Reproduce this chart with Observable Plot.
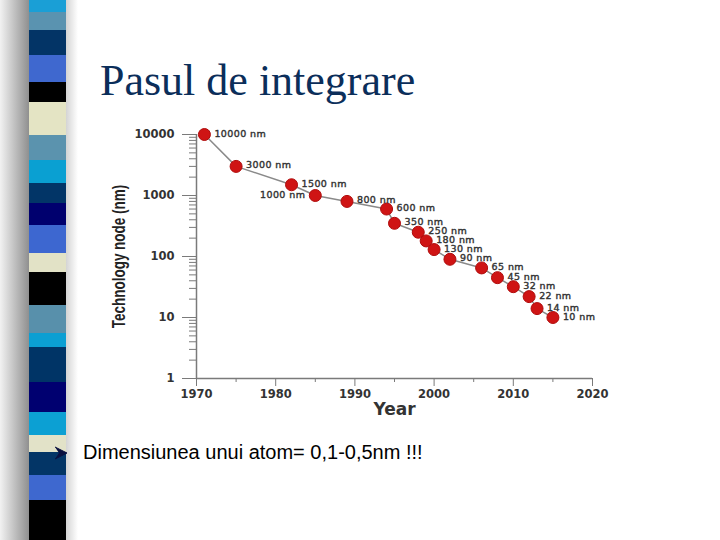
<!DOCTYPE html>
<html>
<head>
<meta charset="utf-8">
<script src="https://cdn.jsdelivr.net/npm/d3@7"></script>
<script src="https://cdn.jsdelivr.net/npm/@observablehq/plot@0.6"></script>
<style>
  html, body { margin: 0; padding: 0; background: #fff; }
  #slide { position: relative; width: 720px; height: 540px; overflow: hidden; background: #fff; }
  #shadow { position: absolute; left: 0; top: 0; width: 30px; height: 540px;
            background: linear-gradient(to right, #f2f2f2, #8c8c8c); }
  #shadow2 { position: absolute; left: 66px; top: 0; width: 12px; height: 540px;
            background: linear-gradient(to right, #d4d4d4, #ffffff); }
  #stripe { position: absolute; left: 29px; top: 0; width: 37px; height: 540px; }
  #stripe div { position: absolute; left: 0; width: 100%; }
  #title { position: absolute; left: 100px; top: 55px; font-family: "Liberation Serif", "Times New Roman", serif;
           font-size: 44px; color: #0b2e5a; white-space: nowrap; }
  #chart { position: absolute; left: 100px; top: 115px; }
  #bullet { position: absolute; left: 54px; top: 446px; }
  #bt { position: absolute; left: 83px; top: 441px; font-family: "Liberation Sans", Arial, sans-serif; font-size: 20px; color: #000; white-space: nowrap; }
</style>
</head>
<body>
<div id="slide">
  <div id="shadow"></div>
  <div id="stripe"></div>
  <div id="shadow2"></div>
  <div id="title">Pasul de integrare</div>
  <div id="chart"></div>
  <div id="bullet"><svg width="14" height="14" viewBox="0 0 14 14"><polygon points="1,1 13,7 1,13 5,7" fill="#0a1040"/><polyline points="1,1 13,7 1,13" fill="none" stroke="#0a1040" stroke-width="1"/></svg></div>
  <div id="bt">Dimensiunea unui atom= 0,1-0,5nm !!!</div>
</div>
<script>
// Data
const years = [1971, 1975, 1982, 1985, 1989, 1994, 1995, 1998, 1999, 2000, 2002, 2006, 2008, 2010, 2012, 2013, 2015];
const nodes = [10000, 3000, 1500, 1000, 800, 600, 350, 250, 180, 130, 90, 65, 45, 32, 22, 14, 10];
const xTicks = [1970, 1980, 1990, 2000, 2010, 2020];
const xMinorTicks = [1975, 1985, 1995, 2005, 2015];
const yTicks = [1, 10, 100, 1000, 10000];

// Decorative slide stripe (colours and band edges)
const stripeColors = ["#1a9fd6","#5a93b0","#033466","#3f68cf","#000000","#e4e4c4","#5b93ae","#0aa0d2","#023567","#00006e","#3d67d0","#e2e2c6","#000000","#5890ab","#0b9fd3","#003466","#000070","#0ca0d3","#e2e2c8","#033566","#3e68cf","#000000"];
const stripeEdges = [0,12,30,55,82,102,135,160,183,203,225,253,272,305,333,347,382,412,435,452,475,500,540];

const stripe = document.getElementById("stripe");
stripeColors.forEach((c, i) => {
  const d = document.createElement("div");
  d.style.top = stripeEdges[i] + "px";
  d.style.height = (stripeEdges[i + 1] - stripeEdges[i]) + "px";
  d.style.background = c;
  stripe.appendChild(d);
});

const data = years.map((y, i) => ({year: y, node: nodes[i]}));
const yMinor = [];
for (let e = 0; e < 4; e++) for (let k = 2; k <= 9; k++) yMinor.push(k * Math.pow(10, e));

const axisColor = "#7a7a7a";
const labelStyle = {fontSize: 9.5, fontWeight: "normal", fill: "#333", stroke: "#333", strokeWidth: 0.4};
const chart = Plot.plot({
  width: 520,
  height: 310,
  marginLeft: 96,
  marginRight: 28,
  marginTop: 19,
  marginBottom: 47,
  x: {domain: [1970, 2020]},
  y: {type: "log", domain: [1, 10000]},
  style: {fontFamily: "DejaVu Sans, sans-serif", fontWeight: "bold", fontSize: "11.5px", color: "#333", background: "transparent"},
  marks: [
    Plot.axisX({ticks: xTicks, tickSize: 8, tickPadding: 3, tickFormat: d => String(d), stroke: axisColor,
                label: "Year", labelAnchor: "center", labelArrow: "none", labelOffset: 36}),
    Plot.axisX({ticks: xMinorTicks, tickSize: 4, tickFormat: () => "", stroke: axisColor, label: null}),
    Plot.axisY({ticks: yTicks, tickSize: 14, tickPadding: 8, tickFormat: d => String(d), stroke: axisColor,
                label: "Technology node (nm)", labelAnchor: "center", labelArrow: "none", labelOffset: 84}),
    Plot.axisY({ticks: yMinor, tickSize: 7, tickFormat: () => "", stroke: axisColor, label: null}),
    Plot.ruleX([1970], {stroke: axisColor, strokeWidth: 1.5}),
    Plot.ruleY([1], {stroke: axisColor, strokeWidth: 1.5}),
    Plot.line(data, {x: "year", y: "node", stroke: "#8a8a8a", strokeWidth: 1.5}),
    Plot.dot(data, {x: "year", y: "node", r: 6, fill: "#cf1414", stroke: "#b00c0c", strokeWidth: 1}),
    Plot.text(data.filter(d => d.node !== 1000), {x: "year", y: "node", text: d => d.node + " nm",
              textAnchor: "start", dx: 10, dy: -1, ...labelStyle}),
    Plot.text(data.filter(d => d.node === 1000), {x: "year", y: "node", text: d => d.node + " nm",
              textAnchor: "end", dx: -10, dy: -1, ...labelStyle})
  ]
});
document.getElementById("chart").appendChild(chart);

const svg = d3.select(chart);
svg.selectAll("[aria-label='text'] text").style("letter-spacing", "0.4px");
svg.selectAll("[aria-label='x-axis label'] text").style("font-size", "17px").style("fill", "#333");
svg.selectAll("[aria-label='y-axis label'] text")
  .style("font-family", "'Liberation Sans', Arial, sans-serif")
  .style("font-size", "13.5px").style("fill", "#222")
  .attr("transform", function() { return (this.getAttribute("transform") || "") + " scale(1,1.3)"; });
</script>
</body>
</html>
